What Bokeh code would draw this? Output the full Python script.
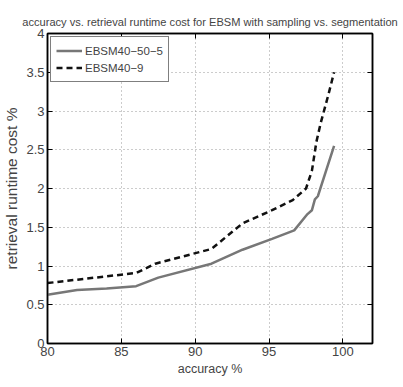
from bokeh.plotting import figure
from bokeh.models import LinearAxis, Range1d, FixedTicker, Legend, LegendItem
from bokeh.embed import file_html
from bokeh.resources import INLINE

# data
acc_sampling = [80, 82, 84, 86, 87.5, 91.1, 93.2, 95.2, 96.7, 97.6, 97.9, 98.1, 98.3, 99.4]
cost_sampling = [0.63, 0.69, 0.71, 0.74, 0.85, 1.03, 1.21, 1.35, 1.46, 1.67, 1.72, 1.86, 1.90, 2.55]
acc_segment = [80, 86, 87.3, 91.1, 93.2, 95.2, 96.6, 97.5, 97.9, 98.2, 98.5, 99.0, 99.4]
cost_segment = [0.78, 0.91, 1.03, 1.22, 1.55, 1.72, 1.85, 2.0, 2.23, 2.6, 2.85, 3.2, 3.5]
x_ticks = [80, 85, 90, 95, 100]
y_ticks = [0, 0.5, 1, 1.5, 2, 2.5, 3, 3.5, 4]
labels = ["EBSM40\u221250\u22125", "EBSM40\u22129"]
title = "accuracy vs. retrieval runtime cost for EBSM with sampling vs. segmentation"

FONT = "Liberation Sans"

p = figure(width=403, height=387, output_backend="svg", toolbar_location=None,
           x_range=Range1d(80, 102), y_range=Range1d(0, 4),
           min_border_left=45, min_border_right=31, min_border_top=33, min_border_bottom=44)
p.title.text = title
p.title.align = "center"
p.title.text_font = FONT
p.title.text_font_size = "11.1px"
p.title.text_font_style = "normal"
p.title.offset = 0
p.title.standoff = 12

p.outline_line_color = "black"
p.outline_line_width = 1.5
p.background_fill_color = "white"
p.border_fill_color = "white"

for ax in (p.xaxis[0], p.yaxis[0]):
    ax.axis_line_color = "black"
    ax.axis_line_width = 1.5
    ax.major_tick_in = 5
    ax.major_tick_out = 0
    ax.minor_tick_line_color = None
    ax.major_label_text_font = FONT
    ax.major_label_text_font_size = "13px"
    ax.axis_label_text_font = FONT
    ax.axis_label_text_font_size = "12.5px"
    ax.axis_label_text_font_style = "normal"
    ax.major_label_standoff = 3
    ax.axis_label_standoff = 3

p.yaxis[0].axis_label_text_font_size = "15.5px"
p.yaxis[0].axis_label_standoff = 3
p.xaxis[0].ticker = FixedTicker(ticks=x_ticks)
p.yaxis[0].ticker = FixedTicker(ticks=y_ticks)
p.xaxis[0].axis_label = "accuracy %"
p.yaxis[0].axis_label = "retrieval runtime cost %"
p.yaxis[0].major_label_orientation = "horizontal"

for loc, ticks in (("above", x_ticks), ("right", y_ticks)):
    ax = LinearAxis(ticker=FixedTicker(ticks=ticks))
    ax.axis_line_color = "black"
    ax.axis_line_width = 1.5
    ax.major_tick_in = 5
    ax.major_tick_out = 0
    ax.minor_tick_line_color = None
    ax.major_label_overrides = {t: "" for t in ticks}
    ax.major_label_standoff = 0
    p.add_layout(ax, loc)

p.xgrid.ticker = FixedTicker(ticks=x_ticks)
p.ygrid.ticker = FixedTicker(ticks=y_ticks)
p.grid.grid_line_color = "#999999"
p.grid.grid_line_dash = "1 3"
p.grid.grid_line_width = 1

r1 = p.line(acc_sampling, cost_sampling, line_color="#777777", line_width=2.5)
r2 = p.line(acc_segment, cost_segment, line_color="#111111", line_width=2.5, line_dash="6 4")

legend = Legend(items=[LegendItem(label=labels[0], renderers=[r1]),
                       LegendItem(label=labels[1], renderers=[r2])],
                location="top_left")
legend.margin = 3
legend.padding = 5
legend.spacing = 0
legend.border_line_color = "black"
legend.border_line_width = 1
legend.background_fill_alpha = 1
legend.label_text_font = FONT
legend.label_text_font_size = "11.5px"
legend.label_standoff = 3
legend.glyph_width = 26
legend.glyph_height = 17
legend.label_height = 17
p.add_layout(legend, "center")

open("out.html", "w").write(file_html(p, INLINE))
